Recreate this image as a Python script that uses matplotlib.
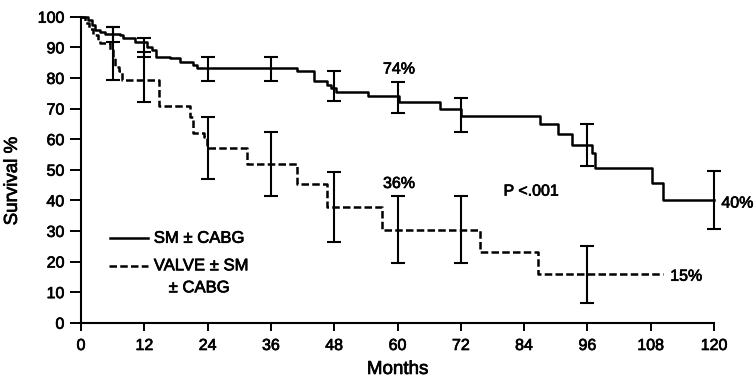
import matplotlib.pyplot as plt
import matplotlib.patheffects as pe

# ---------- datos ----------
# SM +/- CABG (linea continua): tiempos de caida y supervivencia despues
sm_t = [0, 1.4, 2.0, 2.7, 3.6, 4.5, 7.4, 8.0, 10.2, 12.5, 13.5, 14.3, 16.9, 18.8,
        21.3, 22.0, 40.9, 44.2, 46.6, 47.3, 48.3, 54.5, 60.3, 68.0, 72.0, 87.0,
        90.5, 93.0, 96.8, 97.4, 108.2, 110.4, 120]
sm_s = [100, 98.9, 97.3, 95.6, 95.1, 94.5, 94.0, 92.9, 91.8, 90.2, 89.1, 86.9, 86.5, 85.3,
        84.2, 83.1, 82.3, 79.0, 77.7, 76.6, 75.5, 74.2, 72.0, 69.7, 67.4, 64.9,
        61.7, 58.1, 55.4, 50.5, 45.6, 40.1, 40.1]

# VALVE +/- SM +/- CABG (linea discontinua)
va_t = [0, 0.8, 1.5, 2.3, 3.3, 3.6, 5.5, 6.1, 6.4, 7.2, 7.7, 14.7, 20.7, 21.2,
        23.3, 23.8, 31.4, 40.9, 46.7, 57.0, 75.6, 86.7, 110.4]
va_s = [100, 98, 96, 94, 92.4, 91.3, 89.1, 86.9, 83.7, 82.3, 79.3, 70.8, 67.3, 61.9,
        60.8, 57.0, 51.9, 45.3, 37.9, 30.3, 23.0, 15.9, 15.9]

# barras de error (limites inferior / superior)
sm_bar_t = [6, 12, 24, 36, 48, 60, 72, 96, 120]
sm_bar_lo = [91.8, 86.9, 79.1, 79.1, 72.5, 68.4, 62.2, 51.2, 30.5]
sm_bar_hi = [96.7, 93.1, 86.9, 86.9, 82.3, 78.6, 73.3, 64.9, 49.7]

va_bar_t = [6, 12, 24, 36, 48, 60, 72, 96]
va_bar_lo = [79.3, 72.2, 47.0, 41.4, 26.3, 19.4, 19.4, 6.3]
va_bar_hi = [96.5, 88.6, 67.3, 62.2, 49.3, 41.5, 41.5, 25.2]

x_ticks = [0, 12, 24, 36, 48, 60, 72, 84, 96, 108, 120]
y_ticks = [0, 10, 20, 30, 40, 50, 60, 70, 80, 90, 100]

# ---------- grafica ----------
plt.rcParams['font.family'] = ['Liberation Sans', 'DejaVu Sans']
grueso = [pe.withStroke(linewidth=0.5, foreground='black')]
fig = plt.figure(figsize=(7.55, 3.83), dpi=100)
ax = fig.add_axes([0.1073, 0.1574, 0.8384, 0.799])

dash = (0, (3, 1.3))
ax.step(sm_t, sm_s, where='post', color='black', lw=1.8, clip_on=False)
ax.step(va_t, va_s, where='post', color='black', lw=1.8, linestyle=dash, clip_on=False)

for t, lo, hi in zip(sm_bar_t, sm_bar_lo, sm_bar_hi):
    m = (lo + hi) / 2
    ax.errorbar(t, m, yerr=[[m - lo], [hi - m]], fmt='none', ecolor='black',
                elinewidth=1.5, capsize=5, capthick=1.5, clip_on=False)
for t, lo, hi in zip(va_bar_t, va_bar_lo, va_bar_hi):
    m = (lo + hi) / 2
    ax.errorbar(t, m, yerr=[[m - lo], [hi - m]], fmt='none', ecolor='black',
                elinewidth=1.5, capsize=5, capthick=1.5, clip_on=False)

ax.set_xlim(0, 120)
ax.set_ylim(0, 100)
ax.set_xticks(x_ticks)
ax.set_yticks(y_ticks)
ax.tick_params(labelsize=11.5, width=1.4, direction='out')
ax.tick_params(axis='x', length=6, pad=5)
ax.tick_params(axis='y', length=8, pad=4)
for lab in ax.get_xticklabels() + ax.get_yticklabels():
    lab.set_path_effects(grueso)
for s in ['top', 'right']:
    ax.spines[s].set_visible(False)
for s in ['left', 'bottom']:
    ax.spines[s].set_linewidth(1.5)

ax.set_xlabel('Months', fontsize=13.5, path_effects=grueso)
ax.set_ylabel('Survival %', fontsize=13.5, path_effects=grueso)
ax.xaxis.set_label_coords(0.5, -0.125)
ax.yaxis.set_label_coords(-0.095, 0.463)

ax.text(60.3, 82.9, '74%', ha='center', va='center', fontsize=11.5, path_effects=grueso)
ax.text(60.3, 45.5, '36%', ha='center', va='center', fontsize=11.5, path_effects=grueso)
ax.text(80.1, 43.0, 'P <.001', ha='left', va='center', fontsize=11.5, path_effects=grueso)
ax.text(121.4, 39.1, '40%', ha='left', va='center', fontsize=11.5, clip_on=False,
        path_effects=grueso)
ax.text(111.7, 15.2, '15%', ha='left', va='center', fontsize=11.5, path_effects=grueso)

# leyenda dibujada a mano
ax.plot([5.5, 12.7], [27.6, 27.6], color='black', lw=1.8)
ax.plot([5.3, 12.7], [18.5, 18.5], color='black', lw=1.8, linestyle=dash)
ax.text(13.8, 27.6, 'SM ± CABG', ha='left', va='center', fontsize=12, path_effects=grueso)
ax.text(13.8, 18.6, 'VALVE ± SM', ha='left', va='center', fontsize=12, path_effects=grueso)
ax.text(22.4, 11.4, '± CABG', ha='center', va='center', fontsize=12, path_effects=grueso)

plt.savefig('out.png', dpi=100)
